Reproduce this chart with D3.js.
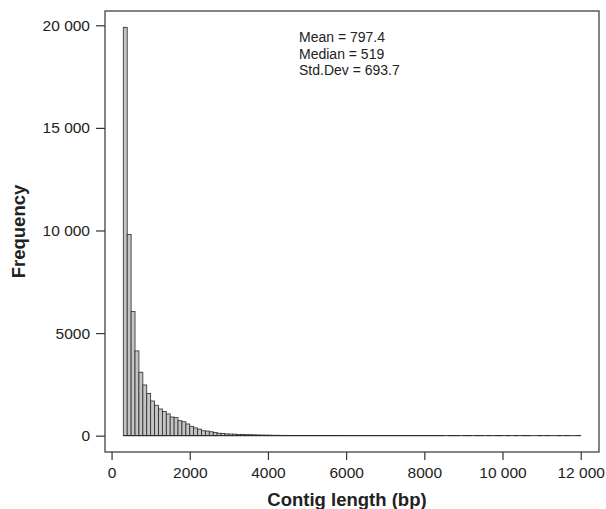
<!DOCTYPE html>
<html>
<head>
<meta charset="utf-8">
<script src="https://cdn.jsdelivr.net/npm/d3@7"></script>
<style>
  body { margin: 0; background: #fff; }
  text { font-family: "Liberation Sans", Arial, sans-serif; fill: #222; }
</style>
</head>
<body>
<div id="chart"></div>
<script>
// bins: 100 bp wide, starting at 300 bp
const binStart = 300;
const binWidth = 100;
const counts = [
  19900, 9800, 6050, 4130, 3090, 2470, 2060, 1690, 1480, 1300,
  1180, 1060, 910, 880, 730, 680, 570, 455, 380, 320,
  240, 225, 190, 160, 120, 110, 85, 80, 75, 62,
  65, 50, 45, 42, 35, 30, 28, 24, 20, 18,
  16, 14, 12, 11, 10, 9, 8, 8, 7, 6,
  6, 5, 5, 4, 4, 4, 3, 3, 3, 3,
  2, 2, 2, 3, 2, 2, 1, 2, 1, 2,
  1, 1, 2, 1, 1, 1, 1, 2, 1, 1,
  1, 1, 0, 1, 1, 1, 0, 1, 1, 0,
  1, 1, 0, 1, 0, 1, 1, 0, 1, 0,
  1, 0, 1, 1, 0, 0, 1, 0, 1, 0,
  0, 1, 0, 1, 0, 0, 1
];
const xTicks = [0, 2000, 4000, 6000, 8000, 10000, 12000];
const yTicks = [0, 5000, 10000, 15000, 20000];
const stats = ["Mean = 797.4", "Median = 519", "Std.Dev = 693.7"];

const W = 606, H = 509;
const box = { left: 105, right: 599, top: 11, bottom: 452 };

const bins = counts.map((c, i) => ({ x0: binStart + i * binWidth, x1: binStart + (i + 1) * binWidth, n: c }));

// R style 4% padding around the data range
const xMin = binStart, xMax = binStart + counts.length * binWidth;
const xPad = (xMax - xMin) * 0.04;
const yMax = d3.max(counts);
const yPad = yMax * 0.04;

const x = d3.scaleLinear().domain([xMin - xPad, xMax + xPad]).range([box.left, box.right]);
const y = d3.scaleLinear().domain([-yPad, yMax + yPad]).range([box.bottom, box.top]);

const fmt = v => v >= 10000 ? d3.format(",")(v).replace(",", " ") : String(v);

const svg = d3.select("#chart").append("svg")
  .attr("width", W).attr("height", H);

// bars
svg.append("g").selectAll("rect")
  .data(bins)
  .enter().append("rect")
  .attr("x", d => x(d.x0))
  .attr("width", d => x(d.x1) - x(d.x0))
  .attr("y", d => y(d.n))
  .attr("height", d => y(0) - y(d.n))
  .attr("fill", "#c4c4c4")
  .attr("stroke", "#2a2a2a")
  .attr("stroke-width", 0.8);

// empty bins still show as a flat line, like R's hist
svg.append("line")
  .attr("x1", x(xMin)).attr("x2", x(xMax))
  .attr("y1", y(0)).attr("y2", y(0))
  .attr("stroke", "#2a2a2a").attr("stroke-width", 1);

// frame
svg.append("rect")
  .attr("x", box.left).attr("y", box.top)
  .attr("width", box.right - box.left).attr("height", box.bottom - box.top)
  .attr("fill", "none").attr("stroke", "#333").attr("stroke-width", 1.2);

// x axis
const xAxis = d3.axisBottom(x).tickValues(xTicks).tickFormat(fmt).tickSize(8).tickPadding(7);
const gx = svg.append("g").attr("transform", `translate(0,${box.bottom})`).call(xAxis);
gx.select(".domain").remove();
gx.selectAll("line").attr("stroke", "#333").attr("stroke-width", 1.2);
gx.selectAll("text").attr("font-size", 15.5).attr("fill", "#222")
  .style("font-family", "Liberation Sans, Arial, sans-serif");

// y axis
const yAxis = d3.axisLeft(y).tickValues(yTicks).tickFormat(fmt).tickSize(9).tickPadding(6);
const gy = svg.append("g").attr("transform", `translate(${box.left},0)`).call(yAxis);
gy.select(".domain").remove();
gy.selectAll("line").attr("stroke", "#333").attr("stroke-width", 1.2);
gy.selectAll("text").attr("font-size", 15.5).attr("fill", "#222")
  .style("font-family", "Liberation Sans, Arial, sans-serif");

// axis titles
svg.append("text")
  .attr("x", 347).attr("y", 506)
  .attr("text-anchor", "middle")
  .attr("font-size", 18.5).attr("font-weight", "bold")
  .text("Contig length (bp)");

svg.append("text")
  .attr("transform", `translate(25,${(box.top + box.bottom) / 2}) rotate(-90)`)
  .attr("text-anchor", "middle")
  .attr("font-size", 18.5).attr("font-weight", "bold")
  .text("Frequency");

// stats
svg.append("g").selectAll("text")
  .data(stats)
  .enter().append("text")
  .attr("x", 299)
  .attr("y", (d, i) => 42 + i * 16.5)
  .attr("font-size", 14)
  .text(d => d);
</script>
</body>
</html>
